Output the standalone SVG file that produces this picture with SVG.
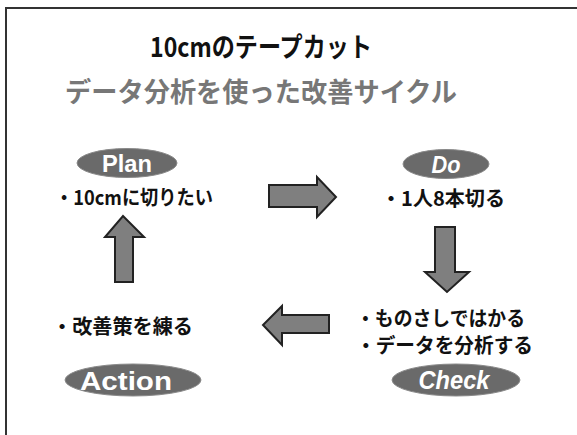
<svg xmlns="http://www.w3.org/2000/svg" width="577" height="435" viewBox="0 0 577 435">
<style>
.frame{fill:none;stroke:#333;stroke-width:2}
.title{font-family:"Noto Sans CJK JP","Noto Sans",sans-serif;font-weight:bold;text-anchor:middle}
.body{font-family:"Noto Sans CJK JP","Noto Sans",sans-serif;font-size:20px;font-weight:bold;fill:#111}
.pill{fill:#6a6a6a;stroke:#8a8a8a;stroke-width:1}
.lab{font-family:"Liberation Sans",Arial,sans-serif;font-weight:bold;fill:#fff;text-anchor:middle}
.arrow{fill:#7f7f7f;stroke:#222;stroke-width:2;stroke-linejoin:miter}
</style>
<rect x="0" y="0" width="577" height="435" fill="#fff"/>
<path class="frame" d="M6,435 V8 H577"/>
<g id="title">
<text class="title" x="261" y="57" font-size="27" fill="#111" textLength="222" lengthAdjust="spacingAndGlyphs">10cmのテープカット</text>
<text class="title" x="261" y="102" font-size="27" fill="#777" textLength="392" lengthAdjust="spacingAndGlyphs">データ分析を使った改善サイクル</text>
</g>
<g id="plan">
<ellipse class="pill" cx="127" cy="163" rx="50" ry="14.5"/>
<text class="lab" x="127" y="172" font-size="24" textLength="50" lengthAdjust="spacingAndGlyphs">Plan</text>
<text class="body" x="55" y="205" textLength="158" lengthAdjust="spacingAndGlyphs">・10cmに切りたい</text>
</g>
<g id="do">
<ellipse class="pill" cx="446" cy="164" rx="43" ry="14.5"/>
<text class="lab" x="446" y="173" font-size="24" font-style="italic" textLength="29" lengthAdjust="spacingAndGlyphs">Do</text>
<text class="body" x="381" y="206" textLength="124" lengthAdjust="spacingAndGlyphs">・1人8本切る</text>
</g>
<g id="check">
<ellipse class="pill" cx="456" cy="380" rx="64" ry="16"/>
<text class="lab" x="454" y="389" font-size="26" font-style="italic" textLength="71" lengthAdjust="spacingAndGlyphs">Check</text>
<text class="body" x="356" y="326" textLength="169" lengthAdjust="spacingAndGlyphs">・ものさしではかる</text>
<text class="body" x="356" y="353" textLength="177" lengthAdjust="spacingAndGlyphs">・データを分析する</text>
</g>
<g id="action">
<ellipse class="pill" cx="133" cy="380" rx="68" ry="16"/>
<text class="lab" x="126" y="390" font-size="26" textLength="92" lengthAdjust="spacingAndGlyphs">Action</text>
<text class="body" x="52" y="334" font-size="21" textLength="141" lengthAdjust="spacingAndGlyphs">・改善策を練る</text>
</g>
<g id="connectors">
<polygon class="arrow" points="269,185 317,185 317,177 336,197 317,217 317,207 269,207"/>
<polygon class="arrow" points="435,227 455,227 455,272 469,272 447,292 425,272 435,272"/>
<polygon class="arrow" points="329,315 282,315 282,306 263,325 282,345 282,333 329,333"/>
<polygon class="arrow" points="115,282 115,237 105,237 123,216 144,237 133,237 133,282"/>
</g>
</svg>
